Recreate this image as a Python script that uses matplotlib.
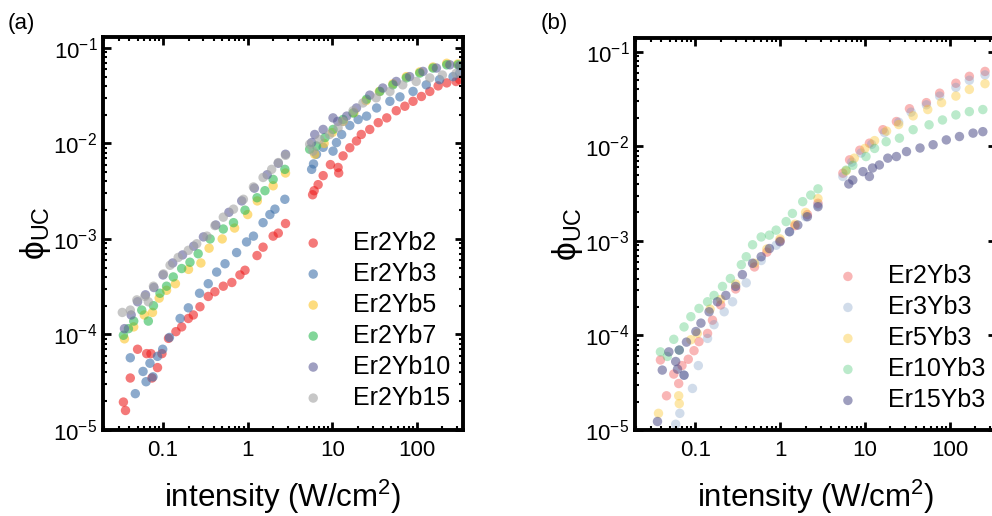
import numpy as np
import matplotlib
matplotlib.use("Agg")
import matplotlib.pyplot as plt
from matplotlib.ticker import FuncFormatter, LogLocator

plt.rcParams['font.family'] = ['Liberation Sans', 'DejaVu Sans']
plt.rcParams['mathtext.default'] = 'regular'

# ---- panel (a): Er2 with varying Yb ----
a_labels = ['Er2Yb2', 'Er2Yb3', 'Er2Yb5', 'Er2Yb7', 'Er2Yb10', 'Er2Yb15']

er2yb2_x = [0.034, 0.036, 0.041, 0.050, 0.064, 0.072, 0.074, 0.086, 0.097, 0.116, 0.142, 0.166,
            0.199, 0.228, 0.273, 0.342, 0.41, 0.515, 0.65, 0.81, 0.93, 1.29, 1.52, 2.0, 2.3, 2.8,
            5.85, 6.1, 6.8, 7.8, 9.5, 11.7, 11.9, 13.4, 16.1, 19.3, 22.0, 27.7, 34.9, 44, 57, 72,
            90, 113, 142, 178, 225, 290, 320]
er2yb2_y = [1.96e-5, 1.6e-5, 3.5e-5, 7.0e-5, 6.3e-5, 6.3e-5, 3.5e-5, 4.5e-5, 6.3e-5, 9.1e-5, 1.07e-4,
            1.2e-4, 1.47e-4, 1.6e-4, 1.95e-4, 2.5e-4, 2.8e-4, 3.2e-4, 3.5e-4, 4.2e-4, 4.7e-4, 6.7e-4,
            8.2e-4, 1.07e-3, 1.15e-3, 1.45e-3,
            2.9e-3, 3.2e-3, 3.7e-3, 4.6e-3, 6.0e-3, 5.6e-3, 4.9e-3, 7.4e-3, 9.0e-3, 1.06e-2, 1.24e-2,
            1.4e-2, 1.65e-2, 1.85e-2, 2.2e-2, 2.45e-2, 2.76e-2, 3.1e-2, 3.5e-2, 4.0e-2, 4.3e-2,
            4.45e-2, 4.65e-2]

er2yb3_x = [0.041, 0.047, 0.058, 0.063, 0.070, 0.076, 0.086, 0.099, 0.119, 0.159, 0.199, 0.27,
            0.342, 0.43, 0.54, 0.74, 0.97, 1.17, 1.52, 1.83, 2.1, 2.75,
            5.7, 6.0, 6.5, 7.8, 10.2, 11.2, 12.9, 16.1, 20.2, 25.4, 33.4, 47.9, 63, 90, 129, 185,
            267, 320]
er2yb3_y = [5.7e-5, 2.4e-5, 4.1e-5, 3.2e-5, 5.0e-5, 3.6e-5, 5.9e-5, 7.0e-5, 9.3e-5, 1.47e-4, 1.9e-4,
            2.7e-4, 3.4e-4, 4.5e-4, 5.5e-4, 7.2e-4, 9.3e-4, 1.07e-3, 1.48e-3, 1.8e-3, 2.05e-3, 2.6e-3,
            5.35e-3, 6.1e-3, 7.7e-3, 9.1e-3, 8.3e-3, 1.02e-2, 1.24e-2, 1.54e-2, 1.78e-2, 1.93e-2,
            2.35e-2, 2.76e-2, 3.07e-2, 3.5e-2, 4.1e-2, 4.65e-2, 5.0e-2, 5.45e-2]

er2yb5_x = [0.035, 0.045, 0.060, 0.075, 0.09, 0.11, 0.14, 0.2, 0.28, 0.35, 0.5, 0.7, 1.0, 1.3,
            2.0, 2.8,
            6.2, 8.0, 10, 13.4, 18, 25, 36, 52, 75, 108, 155, 225, 305]
er2yb5_y = [9.0e-5, 1.2e-4, 1.6e-4, 1.7e-4, 2.4e-4, 2.9e-4, 3.4e-4, 4.8e-4, 5.6e-4, 8.0e-4, 1.0e-3,
            1.3e-3, 1.8e-3, 2.5e-3, 3.6e-3, 4.9e-3,
            7.7e-3, 1.0e-2, 1.3e-2, 1.7e-2, 2.1e-2, 2.8e-2, 3.5e-2, 4.2e-2, 5.0e-2, 5.6e-2, 6.3e-2,
            6.9e-2, 6.8e-2]

er2yb7_x = [0.034, 0.039, 0.045, 0.056, 0.067, 0.077, 0.092, 0.11, 0.132, 0.166, 0.208, 0.26,
            0.36, 0.515, 0.68, 0.93, 1.29, 1.6, 2.0, 2.75,
            5.4, 6.5, 8.2, 10.2, 13.4, 17.6, 25.4, 36.5, 52, 75, 108, 155, 225, 305]
er2yb7_y = [9.8e-5, 1.15e-4, 1.38e-4, 1.8e-4, 1.38e-4, 2.0e-4, 2.7e-4, 3.2e-4, 4.0e-4, 4.9e-4,
            5.7e-4, 7.0e-4, 1.0e-3, 1.27e-3, 1.48e-3, 2.0e-3, 2.7e-3, 3.2e-3, 4.2e-3, 5.35e-3,
            8.7e-3, 9.4e-3, 1.15e-2, 1.4e-2, 1.78e-2, 2.08e-2, 2.9e-2, 3.5e-2, 4.1e-2, 4.85e-2,
            5.45e-2, 6.15e-2, 6.65e-2, 6.65e-2]

er2yb10_x = [0.035, 0.042, 0.050, 0.062, 0.078, 0.10, 0.13, 0.17, 0.23, 0.3, 0.42, 0.6, 0.85,
             1.2, 1.7, 2.3, 2.8,
             5.7, 6.2, 7.8, 10.2, 11.6, 14.8, 19.3, 27.7, 39.5, 57, 82, 118, 170, 245, 320]
er2yb10_y = [1.15e-4, 1.6e-4, 2.2e-4, 2.6e-4, 3.1e-4, 4.2e-4, 5.6e-4, 6.8e-4, 8.4e-4, 1.05e-3,
             1.4e-3, 1.9e-3, 2.5e-3, 3.4e-3, 4.7e-3, 6.2e-3, 7.7e-3,
             1.02e-2, 1.24e-2, 1.4e-2, 1.85e-2, 1.7e-2, 1.93e-2, 2.35e-2, 3.2e-2, 3.8e-2, 4.45e-2,
             5.0e-2, 5.67e-2, 6.15e-2, 6.65e-2, 6.5e-2]

er2yb15_x = [0.033, 0.041, 0.049, 0.061, 0.067, 0.077, 0.101, 0.121, 0.151, 0.199, 0.25, 0.33,
             0.41, 0.515, 0.68, 0.89, 1.17, 1.52, 1.92, 2.3, 2.8,
             5.4, 5.9, 7.1, 9.3, 11.7, 13.4, 17.6, 23, 33, 48, 68, 98, 142, 200, 290]
er2yb15_y = [1.7e-4, 1.8e-4, 2.3e-4, 2.5e-4, 2.2e-4, 3.2e-4, 4.3e-4, 5.3e-4, 6.4e-4, 7.6e-4, 8.9e-4,
             1.07e-3, 1.38e-3, 1.69e-3, 2.05e-3, 2.6e-3, 3.5e-3, 4.4e-3, 5.35e-3, 6.3e-3, 7.5e-3,
             9.8e-3, 8.3e-3, 1.1e-2, 1.24e-2, 1.46e-2, 1.7e-2, 2.2e-2, 2.65e-2, 3.0e-2, 3.5e-2,
             4.1e-2, 4.45e-2, 4.85e-2, 5.2e-2, 5.4e-2]

# ---- panel (b): Yb3 with varying Er ----
b_labels = ['Er2Yb3', 'Er3Yb3', 'Er5Yb3', 'Er10Yb3', 'Er15Yb3']

er2yb3b_x = [0.039, 0.046, 0.056, 0.064, 0.070, 0.083, 0.097, 0.111, 0.14, 0.16, 0.2, 0.3, 0.5,
             0.7, 1.0, 1.5, 2.1, 2.8,
             5.5, 6.6, 8.7, 11.3, 16.3, 23.5, 33.5, 53, 76, 118, 170, 260]
er2yb3b_y = [5.5e-5, 2.3e-5, 3.9e-5, 3.1e-5, 4.8e-5, 5.6e-5, 6.9e-5, 8.6e-5, 1.05e-4, 1.45e-4,
             2.1e-4, 3.1e-4, 5.3e-4, 7.6e-4, 1.0e-3, 1.45e-3, 1.9e-3, 2.5e-3,
             5.2e-3, 7.2e-3, 9.1e-3, 1.08e-2, 1.5e-2, 1.83e-2, 2.5e-2, 2.9e-2, 3.65e-2, 4.65e-2,
             5.5e-2, 6.2e-2]

er3yb3_x = [0.059, 0.066, 0.074, 0.093, 0.109, 0.14, 0.167, 0.22, 0.276, 0.4, 0.6, 0.9, 1.3, 2.0,
            2.8,
            5.5, 7.0, 9.0, 12, 17, 25, 35, 53, 76, 118, 170, 260]
er3yb3_y = [1.15e-5, 1.5e-5, 3.8e-5, 2.75e-5, 4.8e-5, 9.3e-5, 1.3e-4, 1.78e-4, 2.27e-4, 3.6e-4,
            6.2e-4, 9.0e-4, 1.25e-3, 1.8e-3, 2.4e-3,
            4.8e-3, 6.8e-3, 8.5e-3, 1.05e-2, 1.4e-2, 1.8e-2, 2.3e-2, 2.75e-2, 3.4e-2, 4.2e-2,
            5.0e-2, 5.7e-2]

er5yb3_x = [0.037, 0.064, 0.065, 0.089, 0.106, 0.15, 0.2, 0.3, 0.5, 0.7, 1.0, 1.5, 2.0, 2.8,
            6.0, 7.5, 10, 13, 18, 25, 37, 55, 80, 118, 170, 260]
er5yb3_y = [1.5e-5, 2.3e-5, 1.9e-5, 9.0e-5, 1.05e-4, 1.9e-4, 2.4e-4, 3.5e-4, 5.8e-4, 8.2e-4, 1.05e-3,
            1.5e-3, 2.0e-3, 2.8e-3,
            5.5e-3, 7.5e-3, 9.5e-3, 1.15e-2, 1.45e-2, 1.7e-2, 2.1e-2, 2.45e-2, 2.9e-2, 3.4e-2,
            4.0e-2, 4.6e-2]

er10yb3_x = [0.039, 0.047, 0.056, 0.065, 0.074, 0.089, 0.111, 0.14, 0.167, 0.21, 0.26, 0.35, 0.40,
             0.475, 0.6, 0.75, 0.9, 1.18, 1.4, 1.85, 2.3, 2.8,
             6.0, 7.2, 10.3, 13.0, 17.8, 25.5, 37, 57, 82, 118, 170, 245]
er10yb3_y = [6.7e-5, 6.0e-5, 9.1e-5, 7.0e-5, 1.23e-4, 1.58e-4, 1.93e-4, 2.27e-4, 2.65e-4, 3.3e-4,
             4.0e-4, 5.6e-4, 6.8e-4, 9.1e-4, 1.1e-3, 1.15e-3, 1.3e-3, 1.6e-3, 1.95e-3, 2.6e-3,
             3.05e-3, 3.55e-3,
             5.6e-3, 6.3e-3, 7.8e-3, 9.5e-3, 1.12e-2, 1.22e-2, 1.5e-2, 1.69e-2, 1.9e-2, 2.15e-2,
             2.33e-2, 2.45e-2]

er15yb3_x = [0.036, 0.041, 0.049, 0.059, 0.062, 0.065, 0.074, 0.079, 0.102, 0.117, 0.146, 0.183,
             0.23, 0.30, 0.36, 0.475, 0.6, 0.75, 1.0, 1.29, 1.62, 2.1, 2.8,
             6.46, 7.2, 9.5, 11.3, 12.3, 14.8, 18.6, 23.5, 30.9, 44.6, 63.6, 91, 130, 188, 245]
er15yb3_y = [1.23e-5, 4.3e-5, 6.7e-5, 5.3e-5, 4.4e-5, 7.0e-5, 3.8e-5, 8.5e-5, 1.1e-4, 1.35e-4,
             1.78e-4, 2.27e-4, 2.65e-4, 3.3e-4, 4.4e-4, 5.8e-4, 6.8e-4, 8.3e-4, 9.8e-4, 1.25e-3,
             1.47e-3, 1.8e-3, 2.3e-3,
             4.0e-3, 4.4e-3, 5.4e-3, 4.8e-3, 5.9e-3, 6.35e-3, 7.5e-3, 7.8e-3, 8.8e-3, 9.6e-3,
             1.04e-2, 1.17e-2, 1.27e-2, 1.38e-2, 1.43e-2]

a_series = [(er2yb2_x, er2yb2_y), (er2yb3_x, er2yb3_y), (er2yb5_x, er2yb5_y),
            (er2yb7_x, er2yb7_y), (er2yb10_x, er2yb10_y), (er2yb15_x, er2yb15_y)]
a_colors = ['#ee2020', '#3f72aa', '#fcc52a', '#2fbb55', '#5f5f98', '#a3a3a3']
a_alpha = [0.6, 0.6, 0.6, 0.6, 0.6, 0.6]

b_series = [(er2yb3b_x, er2yb3b_y), (er3yb3_x, er3yb3_y), (er5yb3_x, er5yb3_y),
            (er10yb3_x, er10yb3_y), (er15yb3_x, er15yb3_y)]
b_colors = ['#ee3030', '#7d9cc4', '#fcc52a', '#3cc36b', '#4f4f8a']
b_alpha = [0.35, 0.35, 0.4, 0.35, 0.55]

fig = plt.figure(figsize=(9.92, 5.16), dpi=100)
ax_a = fig.add_axes([0.1038, 0.1667, 0.3629, 0.7616])
ax_b = fig.add_axes([0.640, 0.1667, 0.364, 0.7597])


def tick_fmt_y(v, pos):
    e = int(round(np.log10(v)))
    return r'$10^{%d}$' % e


def tick_fmt_x(v, pos):
    return '%g' % v


def style(ax, ylim, leg_anchor):
    ax.set_xscale('log')
    ax.set_yscale('log')
    ax.set_xlim(0.0195, 350)
    ax.set_ylim(1e-5, ylim)
    ax.xaxis.set_major_locator(LogLocator(base=10, numticks=10))
    ax.yaxis.set_major_locator(LogLocator(base=10, numticks=10))
    ax.xaxis.set_major_formatter(FuncFormatter(tick_fmt_x))
    ax.yaxis.set_major_formatter(FuncFormatter(tick_fmt_y))
    ax.tick_params(which='both', direction='in', top=True, right=True, width=2,
                   labelsize=16, pad=4)
    ax.tick_params(axis='x', pad=7)
    ax.tick_params(which='major', length=6)
    ax.tick_params(which='minor', length=3, width=1.5)
    for s in ax.spines.values():
        s.set_linewidth(2.8)
    ax.set_xlabel('intensity (W/cm$^2$)', fontsize=22.5, labelpad=12)
    ax.set_ylabel(r'$\phi_{UC}$', fontsize=24, labelpad=0)
    leg = ax.legend(loc='lower right', bbox_to_anchor=leg_anchor, frameon=False,
                    fontsize=18, labelspacing=0.28, handletextpad=1.1, handlelength=1.0,
                    borderpad=0.2, borderaxespad=0.3)
    return leg


for (x, y), lab, c, al in zip(a_series, a_labels, a_colors, a_alpha):
    ax_a.scatter(x, y, s=46, color=c, alpha=al, edgecolors='none', label=lab)
for (x, y), lab, c, al in zip(b_series, b_labels, b_colors, b_alpha):
    ax_b.scatter(x, y, s=46, color=c, alpha=al, edgecolors='none', label=lab)

style(ax_a, 0.13, (1.0, 0.02))
style(ax_b, 0.14, (1.005, 0.014))

fig.text(0.008, 0.955, '(a)', fontsize=16, va='center')
fig.text(0.545, 0.955, '(b)', fontsize=16, va='center')

fig.savefig('out.png', dpi=100)
